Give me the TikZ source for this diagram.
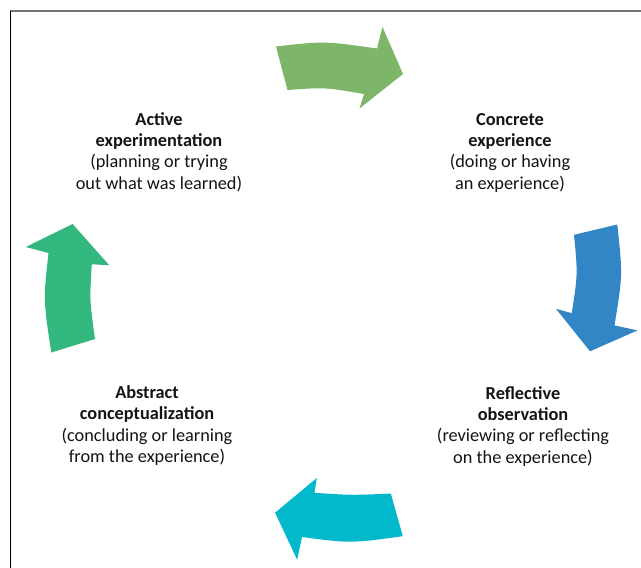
\documentclass[tikz,border=0pt]{standalone}
\usepackage{fontspec}
\setmainfont{Carlito}
\definecolor{gTop}{RGB}{126,182,105}
\definecolor{bRight}{RGB}{50,134,198}
\definecolor{cBottom}{RGB}{2,185,204}
\definecolor{gLeft}{RGB}{50,184,126}
\definecolor{txt}{RGB}{20,20,20}
\begin{document}
\begin{tikzpicture}[x=1pt,y=-1pt,
  lbl/.style={align=center,inner sep=0pt,text=txt,font=\fontsize{18.3}{21.3}\selectfont},
  arr/.style={draw=none}]
\useasboundingbox (0,0) rectangle (641,568);
\fill[white] (0,0) rectangle (641,568);
% frame
\draw[line width=1.3pt,black!55] (10,11) -- (641,11);
\draw[line width=1pt,black] (10.5,11) -- (10.5,568);

% top arrow (green)
\fill[gTop] (276,46.5) .. controls (324,41) .. (377,48.5) -- (382.5,27) -- (403,74) -- (359.5,108.5) -- (364,94)
  .. controls (325,87.3) .. (287.5,90) -- cycle;
% right arrow (blue)
\fill[bRight] (617.3,224.5) .. controls (622.7,275) .. (614.5,325.4) -- (637.5,330.4) -- (590,351.3) -- (556,308.8) -- (571.8,313.2)
  .. controls (577.8,274) .. (574,234.8) -- cycle;
% bottom arrow (cyan)
\fill[cBottom] (402.8,536.2) .. controls (350.5,543.4) .. (302,537) -- (297.2,559.8) -- (275.1,512.7) -- (316.8,478) -- (314.5,492.8)
  .. controls (351.8,495.3) .. (390.8,493.5) -- cycle;
% left arrow (green)
\fill[gLeft] (51.3,352.5) -- (95,339) .. controls (89.6,300.3) .. (91.8,264.3) -- (109.2,265.2) -- (72.6,224) -- (25.8,247) -- (48.5,253)
  .. controls (43.3,299.8) .. cycle;

\node[lbl] (ce) at (510,153) {\strut\textbf{Concrete}\\\textbf{experience}\\(doing or having\\an experience)\strut};
\node[lbl] (ro) at (523,426.8) {\strut\textbf{Reflective}\\\textbf{observation}\\(reviewing or reflecting\\on the experience)\strut};
\node[lbl] (ac) at (147,426.3) {\strut\textbf{Abstract}\\\textbf{conceptualization}\\(concluding or learning\\from the experience)\strut};
\node[lbl] (ae) at (159,153) {\strut\textbf{Active}\\\textbf{experimentation}\\(planning or trying\\out what was learned)\strut};
\end{tikzpicture}
\end{document}
